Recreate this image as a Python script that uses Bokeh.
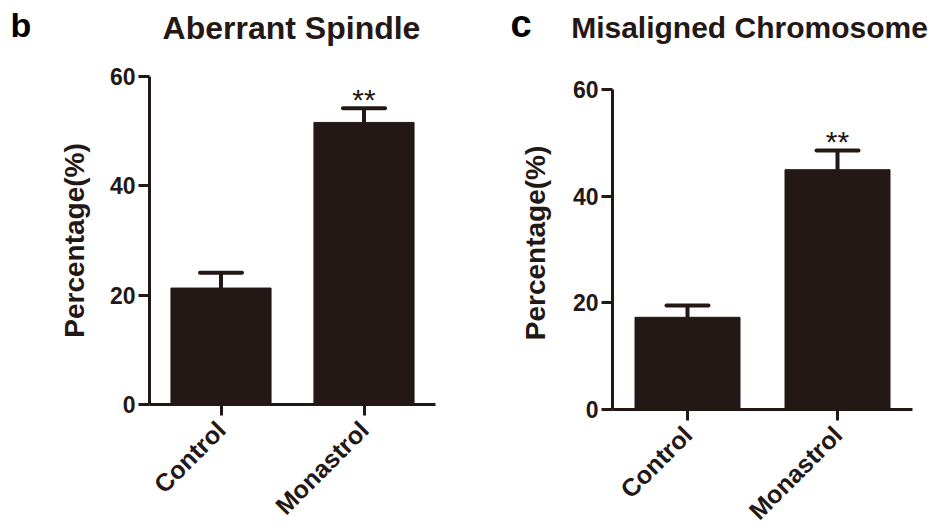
import math
from bokeh.plotting import figure
from bokeh.layouts import row, column
from bokeh.models import (ColumnDataSource, FactorRange, Range1d, FixedTicker,
                          Whisker, TeeHead, Label)
from bokeh.core.properties import value
from bokeh.embed import file_html
from bokeh.resources import INLINE

# ---- data ----
categories = ["Control", "Monastrol"]
spindle_values = [21.3, 51.6]
spindle_err_top = [24.1, 54.2]
chromo_values = [17.3, 45.0]
chromo_err_top = [19.5, 48.6]
y_ticks = [0, 20, 40, 60]
significance = ["", "**"]
panel_letters = ["b", "c"]
panel_titles = ["Aberrant Spindle", "Misaligned Chromosome"]

INK = "#231815"
FONT = "Liberation Sans"
HEADER_H = 56


def make_panel(vals, tops, fw, fh, ml, mr, mb, y_end, label_standoff):
    p = figure(x_range=FactorRange(factors=categories, range_padding=0),
               y_range=Range1d(0, y_end),
               frame_width=fw, frame_height=fh,
               min_border_left=ml, min_border_right=mr,
               min_border_top=76 - HEADER_H, min_border_bottom=mb,
               output_backend="svg", toolbar_location=None,
               background_fill_color="white", border_fill_color="white")
    p.outline_line_color = None
    p.xgrid.grid_line_color = None
    p.ygrid.grid_line_color = None

    src = ColumnDataSource(dict(x=categories, top=vals, upper=tops,
                                star=significance,
                                stary=[t + 1.6 for t in tops]))
    p.vbar(x="x", top="top", width=0.7, source=src,
           fill_color=INK, line_color=INK, line_width=1)
    w = Whisker(base="x", upper="upper", lower="top", source=src,
                line_color=INK, line_width=4,
                upper_head=TeeHead(size=42, line_color=INK, line_width=4,
                                   line_cap="round"),
                lower_head=None)
    p.add_layout(w)
    p.text(x="x", y="stary", text="star", source=src,
           text_align="center", text_baseline="alphabetic",
           text_font=value(FONT), text_font_size="30px", text_color=INK)

    for ax in (p.xaxis[0], p.yaxis[0]):
        ax.axis_line_color = INK
        ax.axis_line_width = 3
        ax.major_tick_line_color = INK
        ax.major_tick_line_width = 3
        ax.major_tick_in = 0
        ax.major_tick_out = 11
        ax.minor_tick_line_color = None
        ax.major_label_text_font = FONT
        ax.major_label_text_font_style = "bold"
        ax.major_label_text_font_size = "23px"
        ax.major_label_text_color = INK
    p.xaxis.major_label_text_font_size = "25px"
    p.yaxis.ticker = FixedTicker(ticks=y_ticks)
    p.yaxis.bounds = (0, 60)
    p.yaxis.major_label_standoff = 3
    p.yaxis.axis_label = "Percentage(%)"
    p.yaxis.axis_label_text_font = FONT
    p.yaxis.axis_label_text_font_style = "bold"
    p.yaxis.axis_label_text_font_size = "28px"
    p.yaxis.axis_label_text_color = INK
    p.yaxis.axis_label_standoff = label_standoff
    p.xaxis.major_label_orientation = math.pi / 4
    p.xaxis.major_label_standoff = 10
    return p


# header strip with panel letters and titles (screen-like coordinates)
header = figure(width=941, height=HEADER_H,
                x_range=Range1d(0, 941), y_range=Range1d(HEADER_H, 0),
                x_axis_type=None, y_axis_type=None,
                min_border=0, output_backend="svg", toolbar_location=None,
                background_fill_color="white", border_fill_color="white")
header.outline_line_color = None
header.xgrid.grid_line_color = None
header.ygrid.grid_line_color = None
letter_pos = [(10, 24, "34px"), (510, 23, "38px")]
title_pos = [(291, 27, "32px"), (749, 27, "30px")]
for letter, (lx, ly, ls) in zip(panel_letters, letter_pos):
    header.add_layout(Label(x=lx, y=ly, text=letter,
                            text_font=FONT, text_font_style="bold",
                            text_font_size=ls, text_color="black",
                            text_align="left", text_baseline="alphabetic"))
for title, (tx, ty, ts) in zip(panel_titles, title_pos):
    header.add_layout(Label(x=tx, y=ty, text=title,
                            text_font=FONT, text_font_style="bold",
                            text_font_size=ts, text_color=INK,
                            text_align="center", text_baseline="alphabetic"))

# frames: top at 76 for both; left bottom at 404, right bottom at 409
p1 = make_panel(spindle_values, spindle_err_top,
                286, 328, 149, 35, 121, 60.0, 17)
p2 = make_panel(chromo_values, chromo_err_top,
                300, 333, 142, 29, 116, 62.49, 19)

layout = column(header, row(p1, p2, spacing=0), spacing=0)
open("out.html", "w").write(file_html(layout, INLINE))
